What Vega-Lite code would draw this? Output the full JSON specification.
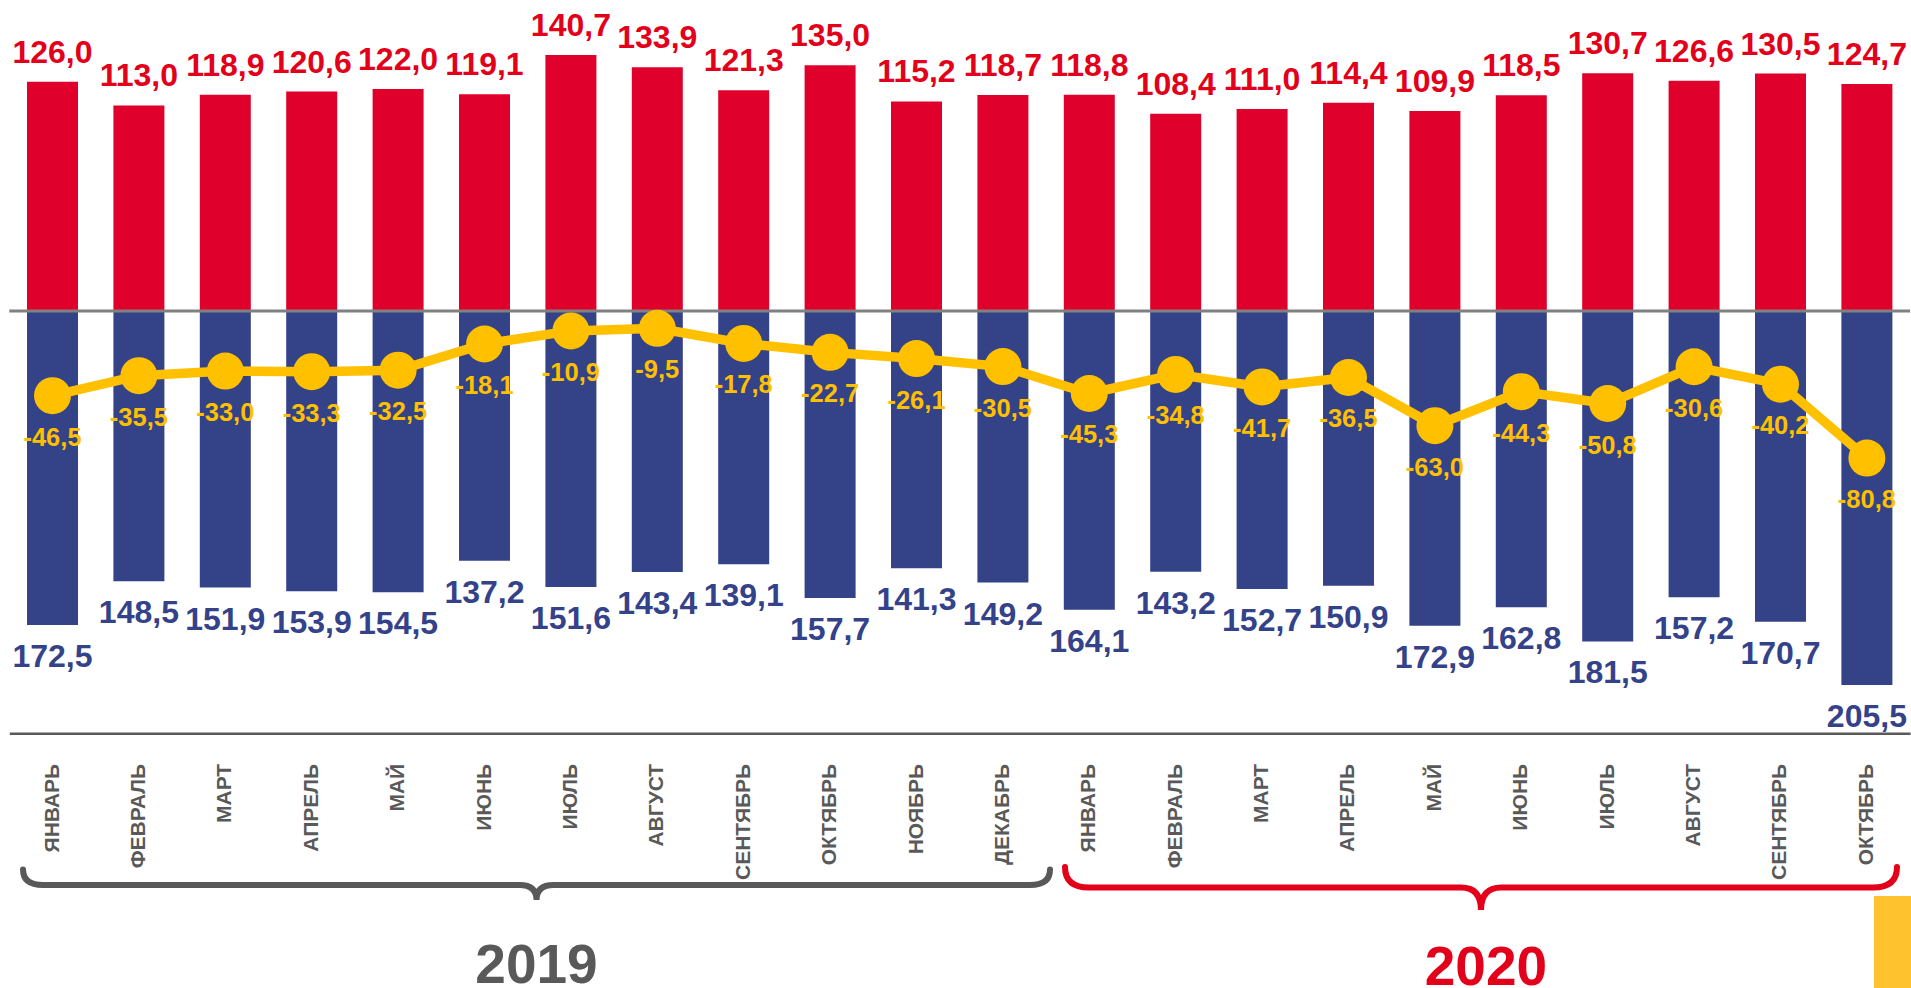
{
  "$schema": "https://vega.github.io/schema/vega-lite/v6.json",
  "width": 1900.8,
  "height": 733.3,
  "autosize": {"type": "none"},
  "padding": {"left": 9.3, "top": 0, "right": 0.9, "bottom": 254.7},
  "background": "white",
  "config": {
    "view": {"stroke": null},
    "font": "Liberation Sans",
    "locale": {"number": {"decimal": ",", "thousands": " ", "grouping": [3], "currency": ["", ""], "minus": "-"}}
  },
  "data": {"values": [
    {"month": "ЯНВАРЬ 2019", "export": 126.0, "import": 172.5, "balance": -46.5},
    {"month": "ФЕВРАЛЬ 2019", "export": 113.0, "import": 148.5, "balance": -35.5},
    {"month": "МАРТ 2019", "export": 118.9, "import": 151.9, "balance": -33.0},
    {"month": "АПРЕЛЬ 2019", "export": 120.6, "import": 153.9, "balance": -33.3},
    {"month": "МАЙ 2019", "export": 122.0, "import": 154.5, "balance": -32.5},
    {"month": "ИЮНЬ 2019", "export": 119.1, "import": 137.2, "balance": -18.1},
    {"month": "ИЮЛЬ 2019", "export": 140.7, "import": 151.6, "balance": -10.9},
    {"month": "АВГУСТ 2019", "export": 133.9, "import": 143.4, "balance": -9.5},
    {"month": "СЕНТЯБРЬ 2019", "export": 121.3, "import": 139.1, "balance": -17.8},
    {"month": "ОКТЯБРЬ 2019", "export": 135.0, "import": 157.7, "balance": -22.7},
    {"month": "НОЯБРЬ 2019", "export": 115.2, "import": 141.3, "balance": -26.1},
    {"month": "ДЕКАБРЬ 2019", "export": 118.7, "import": 149.2, "balance": -30.5},
    {"month": "ЯНВАРЬ 2020", "export": 118.8, "import": 164.1, "balance": -45.3},
    {"month": "ФЕВРАЛЬ 2020", "export": 108.4, "import": 143.2, "balance": -34.8},
    {"month": "МАРТ 2020", "export": 111.0, "import": 152.7, "balance": -41.7},
    {"month": "АПРЕЛЬ 2020", "export": 114.4, "import": 150.9, "balance": -36.5},
    {"month": "МАЙ 2020", "export": 109.9, "import": 172.9, "balance": -63.0},
    {"month": "ИЮНЬ 2020", "export": 118.5, "import": 162.8, "balance": -44.3},
    {"month": "ИЮЛЬ 2020", "export": 130.7, "import": 181.5, "balance": -50.8},
    {"month": "АВГУСТ 2020", "export": 126.6, "import": 157.2, "balance": -30.6},
    {"month": "СЕНТЯБРЬ 2020", "export": 130.5, "import": 170.7, "balance": -40.2},
    {"month": "ОКТЯБРЬ 2020", "export": 124.7, "import": 205.5, "balance": -80.8}
  ]},
  "layer": [
    {
      "mark": {"type": "bar", "color": "#E0002C"},
      "encoding": {
        "x": {"field": "month", "type": "nominal", "sort": null,
          "scale": {"paddingInner": 0.4097, "paddingOuter": 0.2049},
          "axis": {"title": null, "ticks": false, "grid": false, "domainColor": "#595959", "domainWidth": 2.5,
            "labelAngle": -90, "labelFont": "Liberation Sans", "labelFontWeight": "bold", "labelFontSize": 21,
            "labelColor": "#595959", "labelPadding": 30, "labelOverlap": false, "labelBound": false,
            "labelExpr": "split(datum.label, ' ')[0]"}},
        "y": {"field": "export", "type": "quantitative", "scale": {"domain": [-232.0, 170.9], "nice": false, "zero": false}, "axis": null}
      }
    },
    {
      "transform": [{"calculate": "-datum.import", "as": "import_down"}],
      "mark": {"type": "bar", "color": "#344287"},
      "encoding": {
        "x": {"field": "month", "type": "nominal", "sort": null},
        "y": {"field": "import_down", "type": "quantitative", "axis": null}
      }
    },
    {
      "data": {"values": [{}]},
      "mark": {"type": "rule", "color": "#808080", "strokeWidth": 3},
      "encoding": {"y": {"datum": 0, "type": "quantitative", "axis": null}}
    },
    {
      "mark": {"type": "text", "fontWeight": "bold", "fontSize": 32, "color": "#E2001A", "baseline": "alphabetic", "dy": -19},
      "encoding": {
        "x": {"field": "month", "type": "nominal", "sort": null},
        "y": {"field": "export", "type": "quantitative", "axis": null},
        "text": {"field": "export", "type": "quantitative", "format": ".1f"}
      }
    },
    {
      "transform": [{"calculate": "-datum.import", "as": "import_down"}],
      "mark": {"type": "text", "fontWeight": "bold", "fontSize": 32, "color": "#34428A", "baseline": "alphabetic", "dy": 42},
      "encoding": {
        "x": {"field": "month", "type": "nominal", "sort": null},
        "y": {"field": "import_down", "type": "quantitative", "axis": null},
        "text": {"field": "import", "type": "quantitative", "format": ".1f"}
      }
    },
    {
      "mark": {"type": "line", "color": "#FFC000", "strokeWidth": 9.5,
        "point": {"filled": true, "size": 1369, "color": "#FFC000", "opacity": 1}},
      "encoding": {
        "x": {"field": "month", "type": "nominal", "sort": null},
        "y": {"field": "balance", "type": "quantitative", "axis": null}
      }
    },
    {
      "mark": {"type": "text", "fontWeight": "bold", "fontSize": 25.5, "color": "#FFC000", "baseline": "alphabetic", "dy": 50},
      "encoding": {
        "x": {"field": "month", "type": "nominal", "sort": null},
        "y": {"field": "balance", "type": "quantitative", "axis": null},
        "text": {"field": "balance", "type": "quantitative", "format": ".1f"}
      }
    },
    {
      "data": {"values": [{"year": "2019"}]},
      "mark": {"type": "point", "shape": "M -1 -0.0302 Q -1 0 -0.961 0 L -0.0331 0 Q 0 0 0 0.0292 Q 0 0 0.0331 0 L 0.961 0 Q 1 0 1 -0.0302",
        "size": 1054729, "filled": false, "stroke": "#595959", "strokeWidth": 6, "strokeCap": "round", "opacity": 1},
      "encoding": {
        "x": {"datum": "ИЮНЬ 2019", "type": "nominal", "bandPosition": 1.52},
        "y": {"datum": -315.4, "type": "quantitative", "axis": null}
      }
    },
    {
      "data": {"values": [{"year": "2020"}]},
      "mark": {"type": "point", "shape": "M -1 -0.0493 Q -1 0 -0.9423 0 L -0.0481 0 Q 0 0 0 0.0541 Q 0 0 0.0481 0 L 0.9423 0 Q 1 0 1 -0.0493",
        "size": 692224, "filled": false, "stroke": "#E2001A", "strokeWidth": 6, "strokeCap": "round", "opacity": 1},
      "encoding": {
        "x": {"datum": "МАЙ 2020", "type": "nominal", "bandPosition": 1.404},
        "y": {"datum": -316.7, "type": "quantitative", "axis": null}
      }
    },
    {
      "data": {"values": [{"year": "2019"}]},
      "mark": {"type": "text", "fontWeight": "bold", "fontSize": 55, "color": "#595959", "baseline": "alphabetic"},
      "encoding": {
        "x": {"datum": "ИЮНЬ 2019", "type": "nominal", "bandPosition": 1.52},
        "y": {"datum": -369.2, "type": "quantitative", "axis": null},
        "text": {"field": "year", "type": "nominal"}
      }
    },
    {
      "data": {"values": [{"year": "2020"}]},
      "mark": {"type": "text", "fontWeight": "bold", "fontSize": 55, "color": "#E2001A", "baseline": "alphabetic"},
      "encoding": {
        "x": {"datum": "МАЙ 2020", "type": "nominal", "bandPosition": 1.5},
        "y": {"datum": -370.3, "type": "quantitative", "axis": null},
        "text": {"field": "year", "type": "nominal"}
      }
    },
    {
      "data": {"values": [{}]},
      "mark": {"type": "bar", "color": "#FDC22D", "width": 37, "xOffset": 25.6},
      "encoding": {
        "x": {"datum": "ОКТЯБРЬ 2020", "type": "nominal"},
        "y": {"datum": -321.4, "type": "quantitative", "axis": null},
        "y2": {"datum": -380}
      }
    }
  ]
}
